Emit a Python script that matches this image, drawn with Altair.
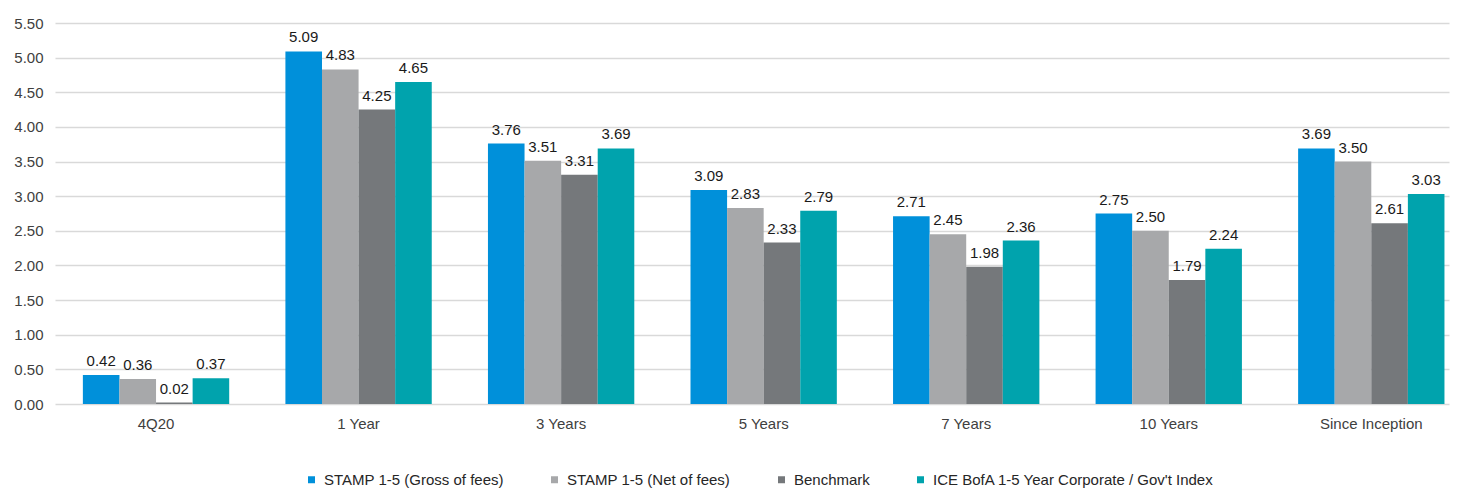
import altair as alt
import pandas as pd

categories = ["4Q20", "1 Year", "3 Years", "5 Years", "7 Years", "10 Years", "Since Inception"]
series = ["STAMP 1-5 (Gross of fees)", "STAMP 1-5 (Net of fees)", "Benchmark",
          "ICE BofA 1-5 Year Corporate / Gov't Index"]
gross = [0.42, 5.09, 3.76, 3.09, 2.71, 2.75, 3.69]
net = [0.36, 4.83, 3.51, 2.83, 2.45, 2.50, 3.50]
bench = [0.02, 4.25, 3.31, 2.33, 1.98, 1.79, 2.61]
ice = [0.37, 4.65, 3.69, 2.79, 2.36, 2.24, 3.03]
colors = ["#0090DA", "#A7A8AA", "#75787B", "#00A3AD"]

rows = []
for s, vals in zip(series, [gross, net, bench, ice]):
    for c, v in zip(categories, vals):
        rows.append({"period": c, "series": s, "value": v})
df = pd.DataFrame(rows)

FONT = "Liberation Sans"

x = alt.X("period:N", sort=categories, title=None,
          scale=alt.Scale(paddingInner=0.2775, paddingOuter=0.08, align=0.86),
          axis=alt.Axis(labelAngle=0, labelFontSize=15, labelColor="#404040", labelFont=FONT,
                        domain=False, ticks=False, labelPadding=12))
xoff = alt.XOffset("series:N", sort=series, scale=alt.Scale(paddingInner=0, paddingOuter=0))
y = alt.Y("value:Q", title=None,
          scale=alt.Scale(domain=[0, 5.5], nice=False),
          axis=alt.Axis(values=[i * 0.5 for i in range(12)], format=".2f", labelFontSize=15,
                        labelColor="#404040", labelFont=FONT, domain=False, ticks=False,
                        labelPadding=12, gridColor="#D9D9D9", gridWidth=1.3))

bars = alt.Chart(df).mark_bar().encode(
    x=x, xOffset=xoff, y=y,
    color=alt.Color("series:N", sort=series,
                    scale=alt.Scale(domain=series, range=colors),
                    legend=alt.Legend(title=None, orient="none", direction="horizontal",
                                      legendX=249, legendY=449,
                                      symbolType="square", symbolSize=49, symbolStrokeWidth=0,
                                      symbolOffset=0, labelOffset=5,
                                      labelFontSize=15, labelFont=FONT, labelColor="#262626",
                                      columnPadding=43, labelLimit=500)),
)

labels = alt.Chart(df).mark_text(baseline="bottom", dy=-6, fontSize=15, font=FONT,
                                 color="#1a1a1a").encode(
    x=x, xOffset=xoff, y=y, text=alt.Text("value:Q", format=".2f"))

chart = (bars + labels).properties(
    width=1394, height=381,
    padding={"left": 5, "top": 8, "right": 5, "bottom": 5},
).configure_view(stroke=None).configure_axis(grid=True).configure_axisX(grid=False)

chart.save("out.html", embed_options={"renderer": "svg", "actions": False})
